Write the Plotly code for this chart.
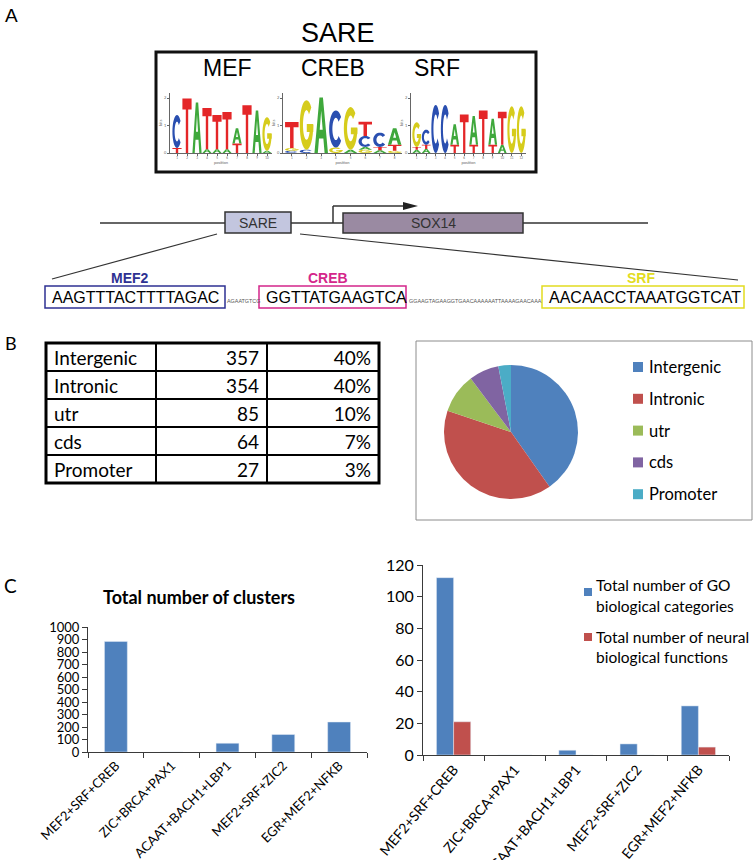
import math
import plotly.graph_objects as go

W, H = 756, 860


def fx(x):
    return x / W


def fy(y):
    return 1 - y / H


SANS = "Liberation Sans, Arial, sans-serif"
CAL = "Lato, Open Sans, sans-serif"

# ---------------- data ----------------
motif_names = ["MEF", "CREB", "SRF"]
# sequence logos: per position, stacked (letter, bits) from bottom to top
mef_logo = [
    [("T", 0.18), ("C", 1.2)],
    [("T", 1.98)],
    [("A", 1.84)],
    [("A", 0.14), ("T", 1.5)],
    [("A", 0.14), ("T", 1.24)],
    [("A", 0.14), ("T", 1.35)],
    [("T", 0.35), ("A", 0.55)],
    [("T", 1.74)],
    [("A", 1.55)],
    [("A", 0.08), ("G", 1.22)],
]
creb_logo = [
    [("C", 0.08), ("G", 0.1), ("T", 0.95)],
    [("C", 0.12), ("G", 1.8)],
    [("A", 2.02)],
    [("G", 0.2), ("C", 1.35)],
    [("A", 0.12), ("G", 1.55)],
    [("G", 0.12), ("A", 0.1), ("C", 0.4), ("T", 0.52)],
    [("A", 0.1), ("T", 0.12), ("C", 0.52)],
    [("G", 0.08), ("T", 0.22), ("A", 0.6)],
]
srf_logo = [
    [("A", 0.12), ("T", 0.1), ("G", 0.9)],
    [("A", 0.15), ("T", 0.15), ("C", 0.55)],
    [("C", 1.75)],
    [("C", 1.75)],
    [("T", 0.3), ("A", 0.75)],
    [("T", 1.4)],
    [("T", 0.3), ("A", 1.05)],
    [("T", 1.55)],
    [("T", 0.3), ("A", 0.95)],
    [("A", 0.3), ("T", 1.2)],
    [("G", 1.7)],
    [("G", 1.7)],
]
logos = [mef_logo, creb_logo, srf_logo]

gene_labels = ["SARE", "SOX14"]
site_names = ["MEF2", "CREB", "SRF"]
site_seqs = ["AAGTTTACTTTTAGAC", "GGTTATGAAGTCA", "AACAACCTAAATGGTCAT"]
spacer_seqs = ["AGAATGTCG", "GGAAGTAGAAGGTGAACAAAAAATTAAAAGAACAAA"]
site_colors = ["#2e3192", "#d4268a", "#e2dc20"]

region_labels = ["Intergenic", "Intronic", "utr", "cds", "Promoter"]
region_counts = [357, 354, 85, 64, 27]
region_pcts = ["40%", "40%", "10%", "7%", "3%"]
region_colors = ["#4f81bd", "#c0504d", "#9bbb59", "#8064a2", "#4bacc6"]

clusters = ["MEF2+SRF+CREB", "ZIC+BRCA+PAX1", "ACAAT+BACH1+LBP1",
            "MEF2+SRF+ZIC2", "EGR+MEF2+NFKB"]
total_clusters = [885, 0, 70, 140, 240]
go_categories = [112, 0, 3, 7, 31]
neural_functions = [21, 0, 0, 0, 5]
series_names = ["Total number of GO<br>biological categories",
                "Total number of neural<br>biological functions"]

# ---------------- helpers ----------------
shapes = []
annotations = []


def line(x0, y0, x1, y1, color="#333333", width=1.5):
    shapes.append(dict(type="line", xref="paper", yref="paper",
                       x0=fx(x0), y0=fy(y0), x1=fx(x1), y1=fy(y1),
                       line=dict(color=color, width=width)))


def rect(x0, y0, x1, y1, color="black", width=1, fill="rgba(0,0,0,0)", layer="above"):
    shapes.append(dict(type="rect", xref="paper", yref="paper",
                       x0=fx(x0), y0=fy(y0), x1=fx(x1), y1=fy(y1),
                       line=dict(color=color, width=width), fillcolor=fill, layer=layer))


def text(x, y, s, size, color="black", family=SANS, xanchor="center", yanchor="middle"):
    annotations.append(dict(x=fx(x), y=fy(y), xref="paper", yref="paper", text=s,
                            showarrow=False, xanchor=xanchor, yanchor=yanchor,
                            font=dict(size=size, color=color, family=family)))


def arc(a0, a1, rxo, ryo, rxi, ryi, n=28):
    ts = [math.radians(a0 + (a1 - a0) * k / n) for k in range(n + 1)]
    outer = [(0.5 + rxo * math.cos(t), 0.5 + ryo * math.sin(t)) for t in ts]
    inner = [(0.5 + rxi * math.cos(t), 0.5 + ryi * math.sin(t)) for t in reversed(ts)]
    return outer + inner


GLYPHS = {
    "T": [[[(0, 1), (1, 1), (1, 0.8), (0.63, 0.8), (0.63, 0), (0.37, 0), (0.37, 0.8), (0, 0.8)]]],
    "A": [[[(0, 0), (0.37, 1), (0.63, 1), (1, 0), (0.75, 0), (0.66, 0.26), (0.34, 0.26), (0.25, 0)],
           [(0.39, 0.42), (0.61, 0.42), (0.5, 0.76)]]],
    "C": [[arc(40, 320, 0.5, 0.5, 0.26, 0.3)]],
    "G": [[arc(45, 360, 0.5, 0.5, 0.26, 0.3)],
          [[(0.52, 0.36), (1, 0.36), (1, 0.52), (0.52, 0.52)]]],
}
LETTER_COLORS = {"A": "#3fa83c", "C": "#2a4fb0", "G": "#d6cc1c", "T": "#e42628"}


def glyph_shapes(letter, xc, y0, h, xref, yref):
    out = []
    w = 0.92
    for polys in GLYPHS[letter]:
        parts = []
        for poly in polys:
            pts = [(xc - w / 2 + u * w, y0 + v * h) for u, v in poly]
            parts.append("M" + " L".join(f"{a:.4f},{b:.4f}" for a, b in pts) + " Z")
        out.append(dict(type="path", xref=xref, yref=yref, path=" ".join(parts),
                        fillcolor=LETTER_COLORS[letter], line=dict(width=0), layer="above"))
    return out


fig = go.Figure()

# ---------------- Panel A ----------------
text(11, 16, "A", 19)
text(338, 33, "SARE", 27)
rect(156, 52, 536, 172, color="#111111", width=3)
for name, xc in zip(motif_names, [227, 333, 437]):
    text(xc, 68, name, 23)

logo_dom = [(170, 272), (283, 402), (411, 526)]
logo_rng = [(0.3, 10.5), (0.4, 8.5), (0.4, 12.5)]
layout_axes = {}
for k, logo in enumerate(logos):
    n = k + 3
    xr, yr = f"x{n}", f"y{n}"
    positions = list(range(1, len(logo) + 1))
    fig.add_trace(go.Scatter(x=positions, y=[0] * len(positions), mode="markers",
                             marker=dict(opacity=0), xaxis=xr, yaxis=yr,
                             hoverinfo="skip", showlegend=False))
    for pos, stack in zip(positions, logo):
        base = 0.0
        for letter, h in stack:
            shapes.extend(glyph_shapes(letter, pos, base, h, xr, yr))
            base += h
    layout_axes[f"xaxis{n}"] = dict(domain=[fx(logo_dom[k][0]), fx(logo_dom[k][1])],
                                    range=list(logo_rng[k]), anchor=yr, showline=True,
                                    linecolor="#666", linewidth=0.6, ticks="outside",
                                    ticklen=2, tickwidth=0.5, tickcolor="#666",
                                    tickvals=positions, tickfont=dict(size=3, color="#666"),
                                    showgrid=False, zeroline=False, automargin=False,
                                    title=dict(text="position", font=dict(size=4, color="#666"),
                                               standoff=1))
    layout_axes[f"yaxis{n}"] = dict(domain=[fy(153), fy(92.5)], range=[0, 2.2], anchor=xr,
                                    showline=True, linecolor="#666", linewidth=0.6,
                                    ticks="outside", ticklen=2, tickwidth=0.5, tickcolor="#666",
                                    tickvals=[0, 1, 2], tickfont=dict(size=4, color="#666"),
                                    showgrid=False, zeroline=False, automargin=False,
                                    title=dict(text="bits", font=dict(size=4, color="#666"),
                                               standoff=1))

# gene diagram
line(100, 223, 225, 223)
rect(225, 212, 291, 233, color="#333333", width=1.5, fill="#c3c6df")
text(258, 223, gene_labels[0], 14, color="#333333")
line(291, 223, 343, 223)
line(333, 223, 333, 206)
line(333, 206, 405, 206)
shapes.append(dict(type="path", xref="paper", yref="paper",
                   path=f"M{fx(403)},{fy(202)} L{fx(418)},{fy(206)} L{fx(403)},{fy(210)} Z",
                   fillcolor="#222222", line=dict(width=0)))
rect(343, 213, 523, 233, color="#333333", width=1.5, fill="#9a8aa2")
text(433, 223, gene_labels[1], 14, color="#333333")
line(523, 223, 648, 223)
line(217, 234, 52, 279, width=1.2)
line(300, 234, 738, 280, width=1.2)

# sequence row
site_boxes = [(45, 225), (259, 406), (542, 744)]
for name, seq, col, (x0, x1) in zip(site_names, site_seqs, site_colors, site_boxes):
    rect(x0, 286, x1, 308, color=col, width=1.5)
    text(x0 + 5, 297, seq, 16, xanchor="left")
    text((x0 + x1) / 2 - 5 if name != "SRF" else 641, 278, f"<b>{name}</b>", 14, color=col)
text(225.5, 301, spacer_seqs[0], 5.4, color="#555", xanchor="left")
text(406.5, 301, spacer_seqs[1], 5.4, color="#555", xanchor="left")

# ---------------- Panel B ----------------
text(11, 343, "B", 18, family=CAL)
cell_font = dict(family=CAL, size=19, color="black")
fig.add_trace(go.Table(
    domain=dict(x=[fx(46), fx(379)], y=[fy(484), fy(343)]),
    columnwidth=[110, 111, 112],
    header=dict(values=[region_labels[0], str(region_counts[0]), region_pcts[0]],
                align=["left", "right", "right"], height=28,
                line=dict(color="black", width=2), fill=dict(color="white"), font=cell_font),
    cells=dict(values=[region_labels[1:], [str(c) for c in region_counts[1:]], region_pcts[1:]],
               align=["left", "right", "right"], height=28,
               line=dict(color="black", width=2), fill=dict(color="white"), font=cell_font),
))
rect(46, 343, 379, 483, color="black", width=3)

rect(416, 341, 752, 520, color="#8c8c8c", width=1)
fig.add_trace(go.Pie(values=region_counts, labels=region_labels, sort=False,
                     direction="clockwise", rotation=0, textinfo="none",
                     marker=dict(colors=region_colors, line=dict(width=0)),
                     domain=dict(x=[fx(444), fx(578)], y=[fy(499), fy(365)]),
                     showlegend=False, hoverinfo="label+value"))
for i, (lab, col) in enumerate(zip(region_labels, region_colors)):
    yc = 367 + i * 31.8
    rect(633, yc - 5, 643, yc + 5, color=col, width=0, fill=col)
    text(647, yc, lab, 16.5, family=CAL, xanchor="left")

# ---------------- Panel C ----------------
text(10, 585, "C", 19, family=CAL)
text(199, 597, "<b>Total number of clusters</b>", 18, family=CAL)

fig.add_trace(go.Bar(x=clusters, y=total_clusters, marker=dict(color="#4f81bd"),
                     width=0.41, xaxis="x", yaxis="y", showlegend=False))
fig.add_trace(go.Bar(x=clusters, y=go_categories, marker=dict(color="#4f81bd"),
                     width=0.28, offset=-0.28, xaxis="x2", yaxis="y2", showlegend=False,
                     name=series_names[0]))
fig.add_trace(go.Bar(x=clusters, y=neural_functions, marker=dict(color="#c0504d"),
                     width=0.28, offset=0.0, xaxis="x2", yaxis="y2", showlegend=False,
                     name=series_names[1]))

leg = [(588, 592, 585, 606, "#4f81bd", "Total number of GO", "biological categories"),
       (588, 637, 637, 657, "#c0504d", "Total number of neural", "biological functions")]
for xs, ys, y1, y2, col, t1, t2 in leg:
    rect(xs - 4, ys - 4, xs + 4, ys + 4, color=col, width=0, fill=col)
    text(594, y1, t1, 15.5, family=CAL, xanchor="left")
    text(594, y2, t2, 15.5, family=CAL, xanchor="left")

axcol = "#3a3a3a"
common_x = dict(showline=True, linecolor=axcol, linewidth=1, ticks="outside",
                tickson="boundaries", ticklen=5, tickcolor=axcol,
                showgrid=False, zeroline=False, type="category", automargin=False)
common_y = dict(showline=True, linecolor=axcol, linewidth=1, ticks="outside", ticklen=5,
                tickcolor=axcol, showgrid=False, zeroline=False, automargin=False)

fig.update_layout(
    width=W, height=H, margin=dict(l=0, r=0, t=0, b=0, autoexpand=False),
    paper_bgcolor="white", plot_bgcolor="white",
    font=dict(family=CAL, color="black"),
    showlegend=False, barmode="group",
    xaxis=dict(domain=[fx(88), fx(367)], anchor="y", tickangle=-45,
               tickfont=dict(family=CAL, size=13, color="black"), **common_x),
    yaxis=dict(domain=[fy(752), fy(627)], anchor="x", range=[0, 1000], dtick=100,
               tickfont=dict(family=CAL, size=13, color="black"), **common_y),
    xaxis2=dict(domain=[fx(423), fx(729)], anchor="y2", tickangle=-50,
                tickfont=dict(family=CAL, size=14, color="black"), **common_x),
    yaxis2=dict(domain=[fy(755), fy(565)], anchor="x2", range=[0, 120], dtick=20,
                tickfont=dict(family=CAL, size=16, color="black"), **common_y),
    shapes=shapes, annotations=annotations,
    **layout_axes,
)

fig.write_html("out.html", config={"displayModeBar": False},
               post_script="document.body.style.margin='0';"
                           "document.body.style.overflow='hidden';")
